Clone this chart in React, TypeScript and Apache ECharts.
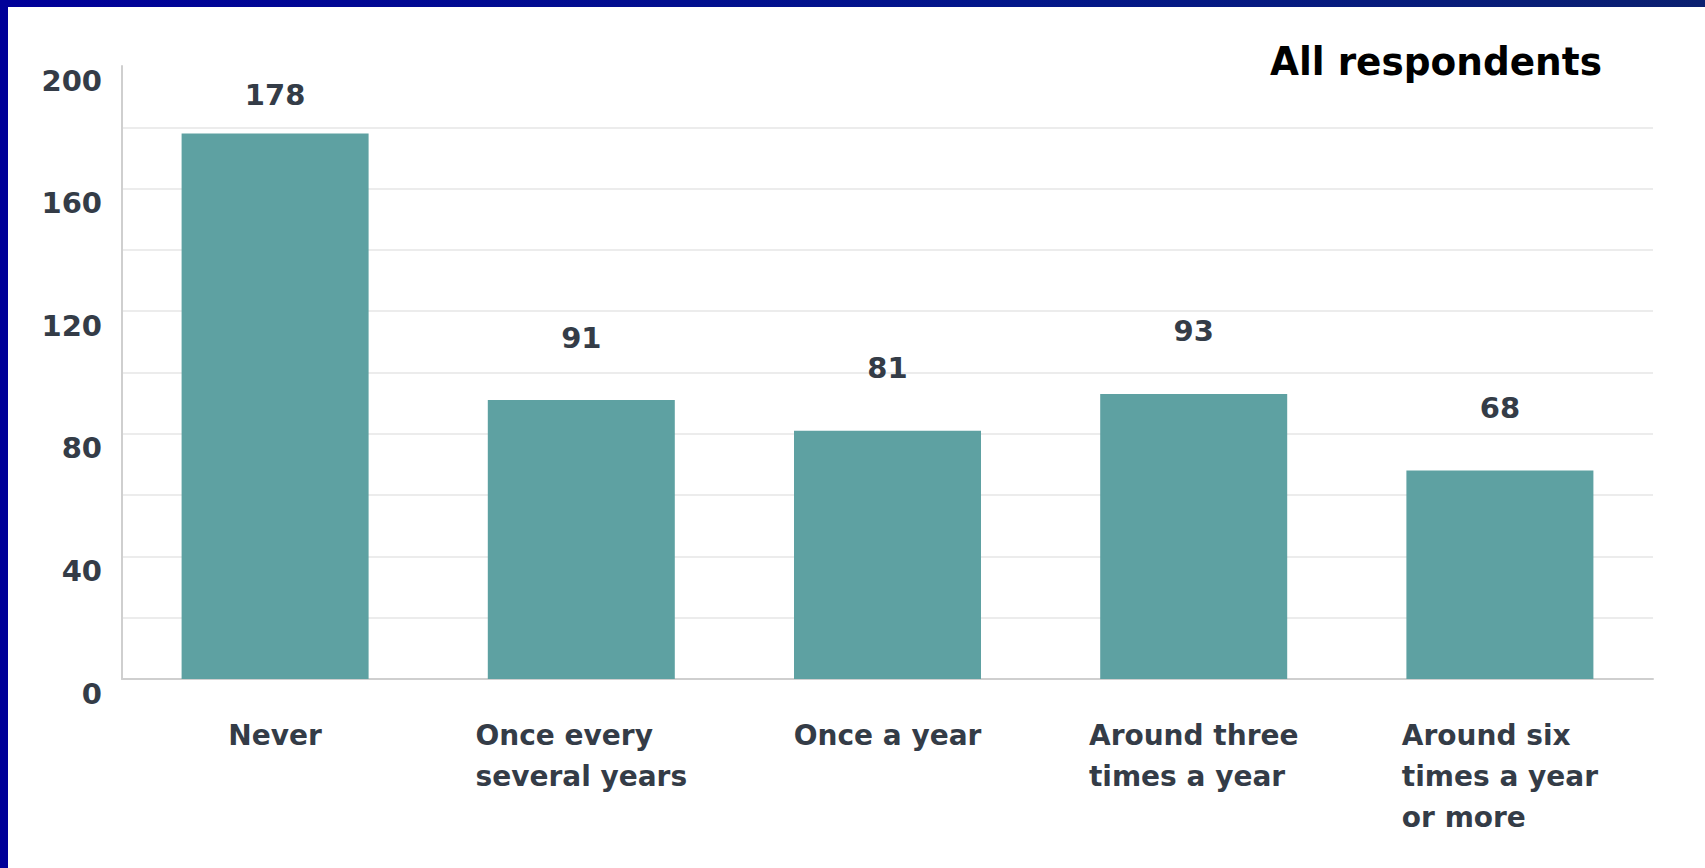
import React, { useEffect, useRef } from "react";
import * as echarts from "echarts";

const categories: string[] = [
  "Never",
  "Once every\nseveral years",
  "Once a year",
  "Around three\ntimes a year",
  "Around six\ntimes a year\nor more",
];
const counts: number[] = [178, 91, 81, 93, 68];
const yTicks = { min: 0, max: 200, gridStep: 20, labelStep: 40 };
const title = "All respondents";

const FONT = "'DejaVu Sans', 'Verdana', sans-serif";
const TEXT = "#343c47";
const BAR = "#5ea1a2";

export default function App() {
  const ref = useRef<HTMLDivElement>(null);

  useEffect(() => {
    document.body.style.margin = "0";
    if (!ref.current) return;
    const chart = echarts.init(ref.current, null, { renderer: "svg" });

    const option: any = {
      animation: false,
      backgroundColor: "#ffffff",
      grid: { left: 122, right: 52, top: 66, bottom: 189, containLabel: false },
      graphic: [
        {
          type: "rect",
          shape: { x: 0, y: 0, width: 1705, height: 7 },
          style: {
            fill: new echarts.graphic.LinearGradient(0, 0, 1, 0, [
              { offset: 0, color: "#000099" },
              { offset: 0.6, color: "#03178a" },
              { offset: 1, color: "#0b2070" },
            ]),
          },
          z: 100,
        },
        {
          type: "rect",
          shape: { x: 0, y: 0, width: 8, height: 868 },
          style: { fill: "#000099" },
          z: 100,
        },
        {
          type: "text",
          x: 1270,
          y: 62,
          scaleX: 0.96,
          style: {
            text: title,
            fontFamily: FONT,
            fontWeight: "bold",
            fontSize: 39,
            fill: "#000000",
            align: "left",
            verticalAlign: "middle",
          },
          z: 100,
        },
      ],
      xAxis: {
        type: "category",
        data: categories,
        axisTick: { show: false },
        axisLine: { show: true, lineStyle: { color: "#cfcfcf", width: 2 } },
        axisLabel: {
          interval: 0,
          margin: 36,
          formatter: (v: string) =>
            v
              .split("\n")
              .map((l) => `{a|${l}}`)
              .join("\n"),
          rich: {
            a: {
              fontFamily: FONT,
              fontWeight: "bold",
              fontSize: 28,
              lineHeight: 41,
              color: TEXT,
              align: "left",
            },
          },
        },
      },
      yAxis: {
        type: "value",
        min: yTicks.min,
        max: yTicks.max,
        interval: yTicks.gridStep,
        axisLine: { show: true, lineStyle: { color: "#cfcfcf", width: 2 } },
        axisTick: { show: false },
        splitLine: {
          show: true,
          showMinLine: false,
          showMaxLine: false,
          lineStyle: { color: "#ececec", width: 2 },
        },
        axisLabel: {
          margin: 20,
          align: "right",
          verticalAlign: "top",
          lineHeight: 29,
          fontFamily: FONT,
          fontWeight: "bold",
          fontSize: 29,
          color: TEXT,
          formatter: (v: number) => (v % yTicks.labelStep === 0 ? String(v) : ""),
        },
      },
      series: [
        {
          type: "bar",
          barWidth: 187,
          data: counts.map((v) => ({
            value: v,
            label: { distance: v >= 170 ? 24 : 48 },
          })),
          itemStyle: { color: BAR },
          label: {
            show: true,
            position: "top",
            fontFamily: FONT,
            fontWeight: "bold",
            fontSize: 29,
            lineHeight: 29,
            color: TEXT,
            formatter: "{c}",
          },
        },
      ],
    };

    chart.setOption(option);
    return () => chart.dispose();
  }, []);

  return (
    <div
      ref={ref}
      style={{ position: "absolute", left: 0, top: 0, width: 1705, height: 868 }}
    />
  );
}
